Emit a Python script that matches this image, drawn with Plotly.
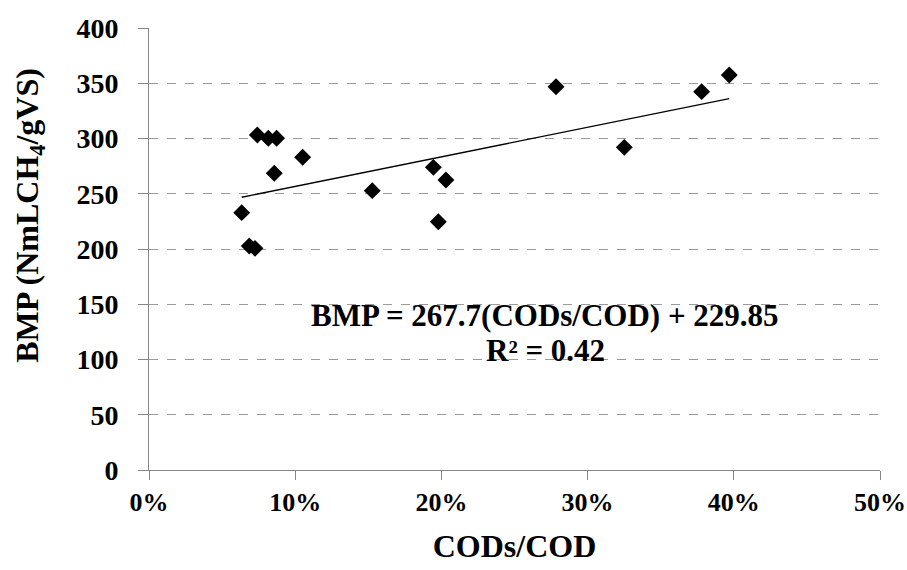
import plotly.graph_objects as go

# Data
cods_ratio = [0.0634, 0.0686, 0.0725, 0.0741, 0.0816, 0.0873, 0.0857, 0.1051,
              0.1527, 0.1945, 0.2031, 0.1979, 0.2784, 0.3251, 0.3780, 0.3969]
bmp = [232.9, 202.7, 200.6, 303.2, 300.2, 300.2, 268.5, 283.0,
       252.8, 273.9, 262.4, 224.7, 346.9, 292.0, 342.4, 357.5]

slope = 267.7
intercept = 229.85
trend_x = [min(cods_ratio), max(cods_ratio)]
trend_y = [slope * v + intercept for v in trend_x]

x_ticks = [0, 0.1, 0.2, 0.3, 0.4, 0.5]
x_tick_labels = ["0%", "10%", "20%", "30%", "40%", "50%"]
y_ticks = [0, 50, 100, 150, 200, 250, 300, 350, 400]
y_tick_labels = [str(v) for v in y_ticks]

FONT = "Liberation Serif, Times New Roman, serif"

fig = go.Figure()
fig.add_trace(go.Scatter(
    x=trend_x, y=trend_y, mode="lines",
    line=dict(color="black", width=1.3), showlegend=False, hoverinfo="skip"))
fig.add_trace(go.Scatter(
    x=cods_ratio, y=bmp, mode="markers",
    marker=dict(symbol="diamond", size=13, color="black"),
    showlegend=False))

fig.add_annotation(x=0.271, y=139.5, xref="x", yref="y",
                   text="<b>BMP = 267.7(CODs/COD) + 229.85</b>", showarrow=False,
                   font=dict(family=FONT, size=31, color="black"))
fig.add_annotation(x=0.271, y=108.5, xref="x", yref="y",
                   text="<b>R² = 0.42</b>", showarrow=False,
                   font=dict(family=FONT, size=31, color="black"))

# y-axis title as a rotated annotation (positioned as in the reference)
fig.add_annotation(x=-0.163, y=0.577, xref="paper", yref="paper",
                   text="<b>BMP (NmLCH<sub>4</sub>/gVS)</b>", showarrow=False,
                   textangle=-90, xanchor="center", yanchor="middle",
                   font=dict(family=FONT, size=32, color="black"))

fig.update_layout(
    width=907, height=570,
    margin=dict(l=149, r=27, t=28, b=100),
    paper_bgcolor="white", plot_bgcolor="white",
    font=dict(family=FONT, color="black"),
)
fig.update_xaxes(
    range=[0, 0.5], tickvals=x_ticks,
    ticktext=["<b>%s</b>" % t for t in x_tick_labels],
    showgrid=False, zeroline=False,
    showline=True, linecolor="#868686", linewidth=1,
    ticks="outside", ticklen=9, tickcolor="#868686",
    tickfont=dict(family=FONT, size=26, color="black"),
    title=dict(text="<b>CODs/COD</b>", font=dict(family=FONT, size=32, color="black"), standoff=18),
    automargin=False,
)
fig.update_yaxes(
    range=[0, 400], tickvals=y_ticks,
    ticktext=["<b>%s</b>" % t for t in y_tick_labels],
    showgrid=True, gridcolor="#9a9a9a", griddash="dash", gridwidth=1,
    zeroline=False,
    showline=True, linecolor="#868686", linewidth=1,
    ticks="outside", ticklen=10, tickcolor="#868686",
    ticklabelstandoff=14,
    tickfont=dict(family=FONT, size=28, color="black"),
    automargin=False,
)

fig.write_html("out.html")
